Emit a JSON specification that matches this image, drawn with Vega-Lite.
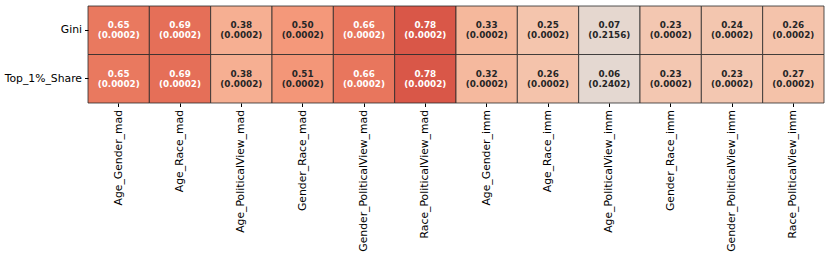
{
  "$schema": "https://vega.github.io/schema/vega-lite/v6.json",
  "autosize": "none",
  "width": 736,
  "height": 97,
  "padding": {"left": 88, "top": 6, "right": 7, "bottom": 152},
  "background": "white",
  "config": {"view": {"stroke": null}, "font": "DejaVu Sans"},
  "data": {"values": [
    {"metric": "Gini", "model": "Age_Gender_mad", "value": 0.65, "p": "(0.0002)"},
    {"metric": "Gini", "model": "Age_Race_mad", "value": 0.69, "p": "(0.0002)"},
    {"metric": "Gini", "model": "Age_PoliticalView_mad", "value": 0.38, "p": "(0.0002)"},
    {"metric": "Gini", "model": "Gender_Race_mad", "value": 0.50, "p": "(0.0002)"},
    {"metric": "Gini", "model": "Gender_PoliticalView_mad", "value": 0.66, "p": "(0.0002)"},
    {"metric": "Gini", "model": "Race_PoliticalView_mad", "value": 0.78, "p": "(0.0002)"},
    {"metric": "Gini", "model": "Age_Gender_imm", "value": 0.33, "p": "(0.0002)"},
    {"metric": "Gini", "model": "Age_Race_imm", "value": 0.25, "p": "(0.0002)"},
    {"metric": "Gini", "model": "Age_PoliticalView_imm", "value": 0.07, "p": "(0.2156)"},
    {"metric": "Gini", "model": "Gender_Race_imm", "value": 0.23, "p": "(0.0002)"},
    {"metric": "Gini", "model": "Gender_PoliticalView_imm", "value": 0.24, "p": "(0.0002)"},
    {"metric": "Gini", "model": "Race_PoliticalView_imm", "value": 0.26, "p": "(0.0002)"},
    {"metric": "Top_1%_Share", "model": "Age_Gender_mad", "value": 0.65, "p": "(0.0002)"},
    {"metric": "Top_1%_Share", "model": "Age_Race_mad", "value": 0.69, "p": "(0.0002)"},
    {"metric": "Top_1%_Share", "model": "Age_PoliticalView_mad", "value": 0.38, "p": "(0.0002)"},
    {"metric": "Top_1%_Share", "model": "Gender_Race_mad", "value": 0.51, "p": "(0.0002)"},
    {"metric": "Top_1%_Share", "model": "Gender_PoliticalView_mad", "value": 0.66, "p": "(0.0002)"},
    {"metric": "Top_1%_Share", "model": "Race_PoliticalView_mad", "value": 0.78, "p": "(0.0002)"},
    {"metric": "Top_1%_Share", "model": "Age_Gender_imm", "value": 0.32, "p": "(0.0002)"},
    {"metric": "Top_1%_Share", "model": "Age_Race_imm", "value": 0.26, "p": "(0.0002)"},
    {"metric": "Top_1%_Share", "model": "Age_PoliticalView_imm", "value": 0.06, "p": "(0.2402)"},
    {"metric": "Top_1%_Share", "model": "Gender_Race_imm", "value": 0.23, "p": "(0.0002)"},
    {"metric": "Top_1%_Share", "model": "Gender_PoliticalView_imm", "value": 0.23, "p": "(0.0002)"},
    {"metric": "Top_1%_Share", "model": "Race_PoliticalView_imm", "value": 0.27, "p": "(0.0002)"}
  ]},
  "encoding": {
    "x": {
      "field": "model", "type": "nominal",
      "sort": ["Age_Gender_mad", "Age_Race_mad", "Age_PoliticalView_mad", "Gender_Race_mad", "Gender_PoliticalView_mad", "Race_PoliticalView_mad", "Age_Gender_imm", "Age_Race_imm", "Age_PoliticalView_imm", "Gender_Race_imm", "Gender_PoliticalView_imm", "Race_PoliticalView_imm"],
      "scale": {"paddingInner": 0, "paddingOuter": 0},
      "axis": {"title": null, "labelAngle": -90, "labelAlign": "right", "labelBaseline": "middle", "labelFontSize": 10.8, "labelColor": "black", "tickColor": "black", "tickSize": 3.5, "labelPadding": 3, "domain": false, "labelLimit": 0}
    },
    "y": {
      "field": "metric", "type": "nominal",
      "sort": ["Gini", "Top_1%_Share"],
      "scale": {"paddingInner": 0, "paddingOuter": 0},
      "axis": {"title": null, "labelFontSize": 10.8, "labelColor": "black", "tickColor": "black", "tickSize": 3.5, "labelPadding": 3, "domain": false}
    }
  },
  "layer": [
    {
      "mark": {"type": "rect", "stroke": "#2a2a2a", "strokeWidth": 0.8},
      "encoding": {
        "color": {
          "field": "value", "type": "quantitative", "legend": null,
          "scale": {
            "domain": [0, 0.125, 0.25, 0.375, 0.5, 0.625, 0.75, 0.875, 1],
            "range": ["#dddcdc", "#ecd3c5", "#f4c5ad", "#f6b093", "#f4987a", "#ec7f63", "#de604d", "#ca3b37", "#b40426"],
            "interpolate": "rgb"
          }
        }
      }
    },
    {
      "mark": {"type": "text", "fontSize": 8.8, "fontWeight": "bold", "dy": -5, "baseline": "middle"},
      "encoding": {
        "text": {"field": "value", "type": "quantitative", "format": ".2f"},
        "color": {"condition": {"test": "datum.value > 0.6", "value": "white"}, "value": "#262626"}
      }
    },
    {
      "mark": {"type": "text", "fontSize": 8.8, "fontWeight": "bold", "dy": 5, "baseline": "middle"},
      "encoding": {
        "text": {"field": "p", "type": "nominal"},
        "color": {"condition": {"test": "datum.value > 0.6", "value": "white"}, "value": "#262626"}
      }
    }
  ]
}
